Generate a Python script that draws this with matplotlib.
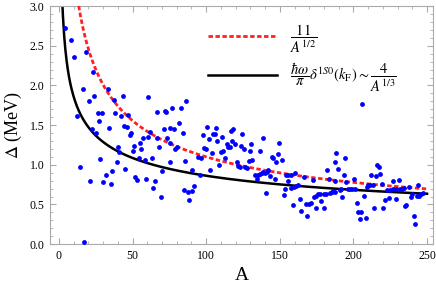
import numpy as np
import matplotlib
matplotlib.use("Agg")
import matplotlib.pyplot as plt
from matplotlib.ticker import MultipleLocator, FormatStrFormatter

plt.rcParams['font.family'] = ['Liberation Serif', 'DejaVu Serif']
plt.rcParams['mathtext.fontset'] = 'stix'

# mass number A and pairing gap (MeV)
A = [4.2, 8.3, 10.0, 18.2, 23.2, 16.1, 24.0, 20.2, 12.3, 26.3, 29.2, 27.2, 22.2, 25.2, 33.0, 37.1,
     43.2, 38.0, 42.1, 34.2, 43.9, 40.1, 41.0, 28.1, 39.2, 14.1, 36.0, 32.2, 21.1, 29.9, 35.1, 17.1,
     60.8, 46.9, 45.9, 48.0, 48.9, 50.9, 50.0, 55.0, 57.0, 60.2, 55.9, 62.0, 66.3, 67.9, 54.1, 58.1,
     62.9, 45.0, 51.8, 52.7, 59.1, 64.9, 64.0, 69.0, 69.9, 66.9, 71.9, 73.0, 76.9, 82.8, 86.6, 71.0,
     75.7, 78.2, 81.8, 83.9, 73.7, 75.3, 80.5, 78.9, 75.1, 85.9, 90.6, 94.7, 84.8, 87.7, 90.2, 92.0,
     88.6,
     95.9, 96.7, 97.9, 98.6, 99.7, 100.8, 101.8, 102.8, 104.0, 104.9, 105.8, 106.7, 107.6, 108.7,
     109.9, 110.8, 111.7, 112.8, 114.0, 115.0, 116.2, 116.9, 118.0, 117.7, 119.8, 120.7, 121.8,
     122.8, 123.9, 124.5, 125.7, 126.4, 127.5, 128.9, 129.7, 130.6, 131.3, 133.1, 134.3, 135.4,
     136.7, 137.9, 138.8, 140.1, 141.1, 142.1, 136.5, 138.5, 143.3, 144.4, 145.3, 146.5, 140.6,
     149.4, 148.5, 147.6, 151.2, 153.9, 155.7, 157.3, 155.3, 153.5, 152.6, 157.5, 159.3, 160.9,
     162.3, 160.4, 158.7, 163.4, 164.5, 166.1, 167.9, 169.7, 170.9, 168.4, 172.2, 173.3, 174.7,
     176.0, 177.2, 174.5, 178.3, 180.1, 179.7, 181.2, 182.1, 183.3, 184.1, 185.5, 186.4, 187.5,
     188.2, 187.3, 189.6, 187.8, 190.7, 191.6, 192.3, 194.1, 193.4, 195.0, 196.3,
     206.1, 200.2, 198.0, 199.3, 200.9, 202.2, 202.9, 205.4, 204.5, 208.3, 207.2, 209.2, 210.2,
     211.9, 211.5, 213.3, 215.1, 216.3, 217.1, 218.3, 219.2, 214.2, 220.1, 221.2, 222.6, 224.1,
     225.0, 226.8, 227.1, 229.1, 229.1, 230.9, 231.6, 232.7, 234.1, 235.2, 235.9, 237.7, 238.8,
     240.0, 240.9, 242.0, 242.9, 244.0, 244.7, 245.8, 247.0]
gap = [2.73, 2.57, 2.36, 2.42, 2.17, 1.95, 1.87, 1.81, 1.62, 1.65, 1.65, 1.55, 1.45, 1.40, 1.95, 1.82,
       1.87, 1.65, 1.61, 1.46, 1.49, 1.22, 1.16, 1.07, 1.03, 0.97, 0.92, 0.87, 0.79, 0.78, 0.76, 0.03,
       1.86, 1.63, 1.48, 1.37, 1.40, 1.24, 1.18, 1.28, 1.34, 1.35, 1.20, 1.41, 1.34, 1.23, 1.08, 1.06,
       1.09, 0.95, 0.85, 0.81, 0.82, 0.80, 0.71, 0.60, 0.92, 1.67, 1.68, 1.66, 1.71, 1.71, 1.80, 1.45,
       1.47, 1.45, 1.53, 1.40, 1.34, 1.28, 1.23, 1.20, 1.03, 1.05, 0.93, 1.10, 0.68, 0.66, 0.67, 0.73,
       0.55,
       0.87, 1.09, 1.38, 1.21, 1.20, 1.48, 1.33, 0.94, 1.15, 1.39, 1.39, 1.46, 1.30, 1.00,
       1.16, 1.35, 1.18, 1.08, 1.26, 1.22, 1.23, 1.42, 1.45, 1.30, 1.26, 1.03, 0.98,
       0.97, 1.24, 1.39, 1.20, 0.97, 0.96, 1.05, 1.17, 1.26, 1.06, 0.87, 0.82, 0.87,
       0.89, 0.90, 0.91, 0.90, 0.91, 0.94, 1.18, 1.34, 0.86, 1.10, 1.08, 0.82, 0.65,
       1.28, 1.13, 1.03, 1.06, 0.87, 0.87, 0.87, 0.79, 0.69, 0.62, 0.71, 0.72, 0.73,
       0.75, 0.90, 0.49, 0.57, 0.42, 0.84, 0.50, 0.51, 0.52, 0.35, 0.81, 0.60, 0.61,
       0.63, 0.63, 0.45, 0.54, 0.46, 0.63, 0.63, 0.93, 0.82, 0.65, 0.66, 0.67, 0.66,
       1.15, 1.04, 0.95, 0.80, 0.68, 0.70, 0.59, 1.08, 0.87, 0.78, 0.69,
       1.77, 0.82, 0.70, 0.70, 0.70, 0.52, 0.40, 0.41, 0.32, 0.33, 0.61, 0.72, 0.74,
       0.87, 0.74, 0.74, 0.86, 1.00, 0.97, 0.89, 0.76, 0.45, 0.45, 0.55, 0.68, 0.58,
       0.68, 0.79, 0.69, 0.69, 0.57, 0.81, 0.69, 0.70, 0.71, 0.48, 0.49, 0.72, 0.60,
       0.63, 0.36, 0.25, 0.61, 0.74, 0.61, 0.63, 0.64]

Acurve = np.linspace(1, 250, 600)

fig = plt.figure(figsize=(4.36, 2.92), dpi=100)
ax = fig.add_axes([0.115, 0.164, 0.878, 0.815])

ax.plot(Acurve, 11 / np.sqrt(Acurve), color='#ff2020', ls=(0, (1.6, 0.9)), lw=2.0,
        label=r'$\dfrac{11}{A^{1/2}}$', zorder=3)
ax.plot(Acurve, 4 / Acurve ** (1 / 3), color='black', lw=1.8,
        label=r'$\dfrac{\hbar\omega}{\pi}\delta^{1S0}(k_\mathrm{F}) \sim \dfrac{4}{A^{1/3}}$', zorder=2)
ax.scatter(A, gap, s=12, color='#0000ff', zorder=4, linewidths=0)

ax.set_xlim(-6, 254)
ax.set_ylim(0, 3)
ax.xaxis.set_major_locator(MultipleLocator(50))
ax.xaxis.set_minor_locator(MultipleLocator(10))
ax.yaxis.set_major_locator(MultipleLocator(0.5))
ax.yaxis.set_minor_locator(MultipleLocator(0.1))
ax.yaxis.set_major_formatter(FormatStrFormatter('%.1f'))
ax.tick_params(which='both', direction='in', top=True, right=True, color='#aaaaaa',
               labelsize=8.5, pad=4)
ax.tick_params(which='major', length=4)
ax.tick_params(which='minor', length=2)
for s in ax.spines.values():
    s.set_color('#aaaaaa')

ax.set_xlabel('A', fontsize=14)
ax.set_ylabel(r'$\Delta$ (MeV)', fontsize=13)

ax.legend(loc='upper left', bbox_to_anchor=(0.39, 0.97), frameon=False, fontsize=10.5,
          handlelength=4.7, labelspacing=0.35, handletextpad=0.9, borderaxespad=0.2)

fig.savefig('out.png', dpi=100)
